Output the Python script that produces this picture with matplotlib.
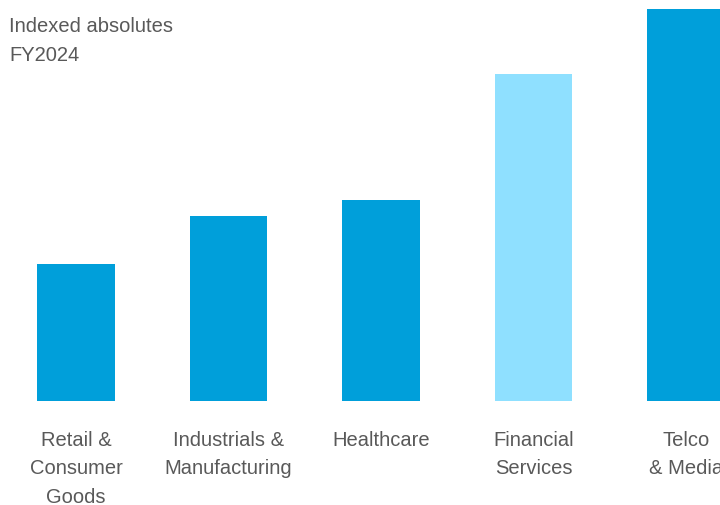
import matplotlib
matplotlib.use("Agg")
import matplotlib.pyplot as plt
from matplotlib import font_manager

CATEGORIES = [
    "Retail &\nConsumer\nGoods",
    "Industrials &\nManufacturing",
    "Healthcare",
    "Financial\nServices",
    "Telco\n& Media",
]
VALUES = [100, 135, 147, 239, 286]
COLORS = ["#009FDA", "#009FDA", "#009FDA", "#8FE0FF", "#009FDA"]

names = {f.name for f in font_manager.fontManager.ttflist}
FONT = ["Liberation Sans Narrow", "DejaVu Sans"] if "Liberation Sans Narrow" in names else ["Liberation Sans", "DejaVu Sans"]
plt.rcParams["font.family"] = FONT

fig = plt.figure(figsize=(7.2, 5.06), dpi=100)
ax = fig.add_axes([0, 104 / 506, 1, 401 / 506])

x = list(range(len(CATEGORIES)))
ax.bar(x, VALUES, width=0.505, color=COLORS)

ax.set_xlim(-76 / 152.5, (720 - 76) / 152.5)
ax.set_ylim(0, 401 / 137 * 100)
ax.axis("off")

for i, label in enumerate(CATEGORIES):
    ax.annotate(label, xy=(i, 0), xycoords="data",
                xytext=(0, -21), textcoords="offset points",
                ha="center", va="top", fontsize=14.5,
                color="#595959", linespacing=1.62)

fig.text(9 / 720, 1 - 17.5 / 506, "Indexed absolutes\nFY2024",
         ha="left", va="top", fontsize=14.5, color="#595959",
         linespacing=1.66)

fig.savefig("out.png", dpi=100)
